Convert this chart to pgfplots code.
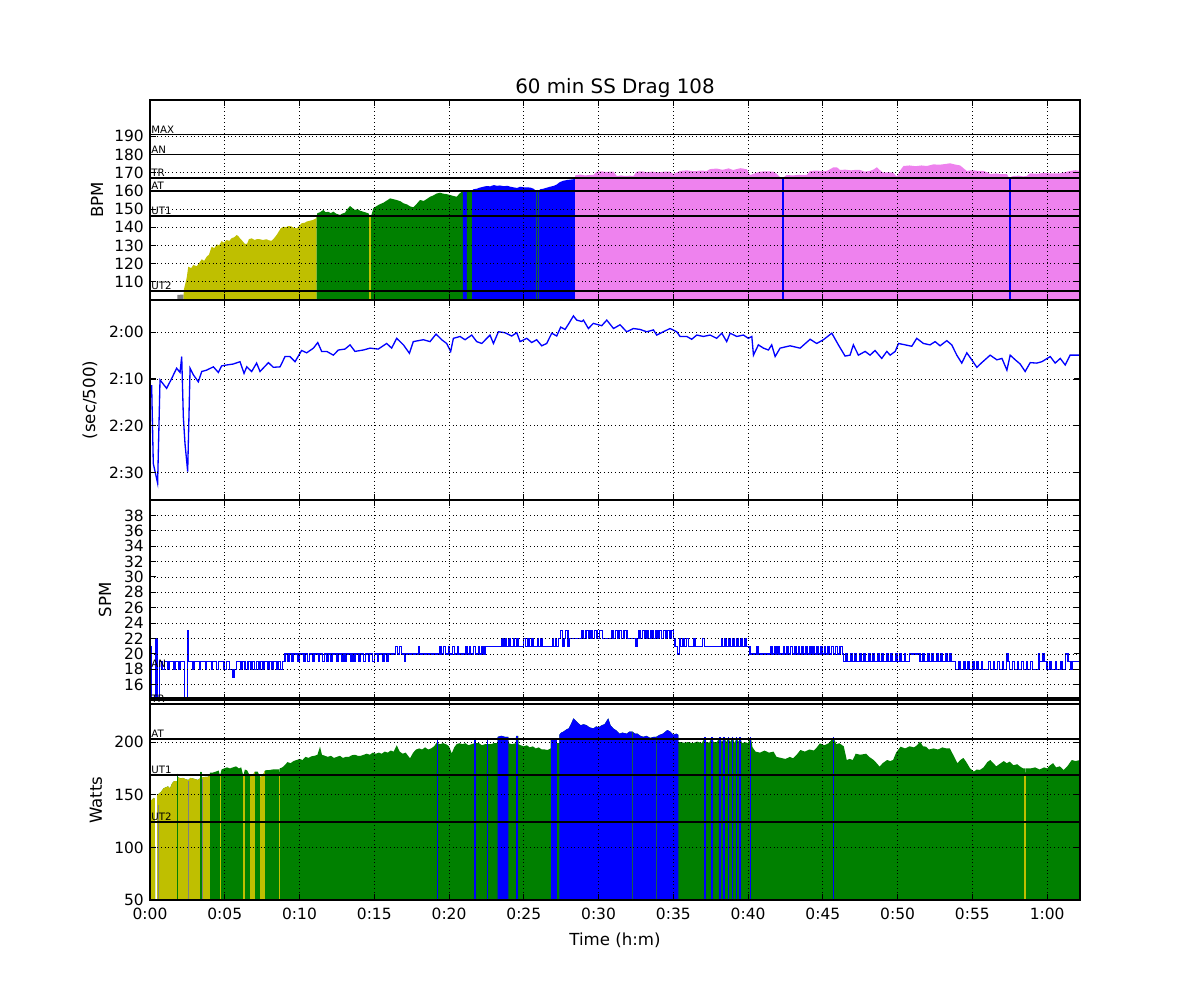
\documentclass[border=0pt]{standalone}
\usepackage{pgfplots}
\usepackage{pgfplotstable}
\pgfplotsset{compat=1.18}
\usepackage{fontspec}
\setmainfont{DejaVu Sans}
\definecolor{zy}{HTML}{BFBF00}
\definecolor{zg}{HTML}{008000}
\definecolor{zb}{HTML}{0000FF}
\definecolor{zv}{HTML}{EE82EE}
\definecolor{zgr}{HTML}{808080}
\definecolor{zdg}{HTML}{1A5A4A}

\pgfplotstableread{
t v
1.83 102.8
2.25 103.0
2.27 105.9
2.45 112
2.56 118.3
2.75 117.5
2.90 119.3
3.12 118.5
3.30 120.5
3.46 122.4
3.62 121.5
3.79 123.8
3.95 125
4.12 129.3
4.30 128.5
4.46 130.6
4.62 130
4.79 132.4
4.95 131.5
5.13 133.0
5.30 132.5
5.46 134
5.63 134.5
5.80 135.75
5.92 135
6.02 133.9
6.18 132.5
6.35 130.8
6.50 131
6.62 133.5
6.80 133.9
7.00 133.0
7.15 133.5
7.36 133.4
7.55 133
7.80 133.4
7.95 132.8
8.14 132.6
8.30 134
8.47 135.75
8.60 137.5
8.75 139.5
8.92 140.3
9.10 140
9.25 140.7
9.45 140.5
9.60 139.8
9.81 139.4
9.95 140.5
10.14 142.2
10.35 142.5
10.50 143.2
10.70 143.6
10.90 144
11.10 144.9
11.15 146
11.19 147.7
11.35 148.2
11.59 149.5
11.75 148.3
11.93 148.5
12.10 147.8
12.26 148.6
12.45 147.5
12.71 146.75
12.85 147.5
13.04 148
13.20 150
13.38 151.7
13.55 150.5
13.71 149.5
13.88 150
14.05 149.1
14.25 148.6
14.49 148
14.62 147.6
14.72 145.5
14.82 147
14.94 150.5
15.16 151.7
15.40 152.8
15.61 153.5
15.80 154.5
16.06 155.9
16.25 155.5
16.50 155
16.75 154.3
16.95 153.2
17.20 152.5
17.40 151.5
17.61 151
17.85 153
18.06 155
18.30 154.5
18.51 155.5
18.73 156.8
18.95 157.5
19.15 158.5
19.40 159
19.60 158.5
19.85 158.2
20.07 157.75
20.30 157.2
20.51 156.8
20.70 158.5
20.92 160.1
21.05 160.4
21.20 160.2
21.35 159.7
21.55 160.3
21.63 160.9
21.85 161.2
22.05 161.8
22.30 162.3
22.52 162.7
22.75 162.5
23.00 163.2
23.20 162.8
23.41 163.0
23.65 162.6
23.90 162.8
24.10 162.3
24.30 162.0
24.55 161.6
24.75 162.3
25.00 162.0
25.20 162.0
25.45 161.8
25.65 161.2
25.86 159.8
25.92 160.6
25.98 159.8
26.09 160.9
26.30 161.2
26.55 161.8
26.75 162.3
26.98 162.7
27.20 163.5
27.40 164.8
27.65 165.6
27.90 166.0
28.10 166.2
28.32 166.4
28.43 167.0
28.44 168.5
28.54 168.75
28.80 169
29.10 168.5
29.40 168.8
29.65 168.75
29.88 170.6
30.20 170.8
30.50 170.4
30.80 170.6
31.00 170.6
31.22 168.2
31.50 168.5
31.80 168.2
32.10 168.4
32.33 168.2
32.55 170.6
32.90 170.8
33.20 170.3
33.60 170.6
34.00 170.2
34.40 170.6
34.78 170.6
35.00 169.3
35.25 170.2
35.45 171
35.90 171.3
36.40 170.8
36.80 171.2
37.24 171
37.46 172
37.90 172.3
38.30 171.6
38.70 172.4
39.00 171.5
39.24 172
39.50 172.5
39.91 171.9
40.13 168.75
40.40 169.5
40.80 170.6
41.20 170.8
41.69 170.6
41.90 169.5
42.14 167.5
42.32 166.5
42.45 168
42.58 168.75
43.00 168.5
43.40 168.9
43.92 168.75
44.15 171
44.60 171.2
45.00 170.8
45.27 171
45.50 172
45.71 173
45.94 173
46.15 171.5
46.50 171.7
46.90 171.3
47.20 171.6
47.49 171.5
47.80 170.6
48.16 171
48.40 171.8
48.61 173
48.80 171.5
49.05 170
49.40 170.3
49.72 170
49.94 167.8
50.15 171
50.39 173.7
50.80 174
51.20 173.6
51.60 174
51.96 173.7
52.20 174.2
52.40 174.6
52.80 174.4
53.20 174.8
53.51 175.2
53.80 174.6
54.18 174
54.40 172.5
54.63 171
55.00 171.4
55.40 171
55.74 171
56.00 170.2
56.19 169.3
56.60 169.6
57.00 169.2
57.31 169.3
57.50 166.5
57.60 167.8
57.74 168.2
58.10 168.4
58.40 168
58.63 168.2
58.86 169.7
59.30 169.4
59.80 169.9
60.30 169.6
60.87 169.7
61.20 170.3
61.54 171
61.90 171.4
62.20 171
}\hrdata

\pgfplotstableread{
t v
0.11 131.3
0.22 148.1
0.51 152.3
0.67 130.2
1.11 132.0
1.45 129.9
1.78 127.7
2.01 128.6
2.12 125.2
2.23 138.1
2.34 143.8
2.52 149.8
2.68 127.7
2.90 129.1
3.23 130.6
3.46 128.4
3.79 128.1
4.24 127.4
4.57 128.6
4.79 127.2
5.13 127.0
5.57 126.8
6.02 126.3
6.29 128.8
6.47 127.4
6.80 128.4
7.13 126.6
7.36 128.4
7.92 126.5
8.25 127.5
8.70 127.4
9.03 125.2
9.36 125.2
9.70 126.3
10.14 123.9
10.48 124.4
10.93 123.4
11.22 122.2
11.48 124.1
11.82 124.1
12.26 124.9
12.60 123.8
13.04 123.6
13.38 122.7
13.71 124.1
14.27 123.8
14.72 123.4
15.27 123.6
15.83 122.4
16.16 123.4
16.50 121.3
16.95 122.7
17.35 124.5
17.61 122.0
18.28 121.6
18.73 122.0
19.13 120.4
19.51 121.6
19.84 122.4
20.11 124.1
20.29 121.3
20.74 120.9
21.07 121.6
21.52 120.6
21.85 122.0
22.19 122.4
22.74 120.6
22.97 122.4
23.30 119.9
23.75 120.1
24.19 120.8
24.53 120.1
24.75 122.0
25.20 121.3
25.53 122.2
25.86 121.6
26.20 122.9
26.53 122.4
26.87 120.2
27.20 120.8
27.47 118.9
27.76 119.4
27.98 118.3
28.32 116.5
28.54 117.4
28.88 117.7
28.99 117.4
29.32 119.2
29.65 118.1
30.21 118.6
30.55 117.4
31.00 119.2
31.44 118.4
31.88 119.9
32.33 119.2
32.78 119.4
33.22 119.9
33.67 119.5
33.89 120.6
34.33 119.9
34.78 119.2
35.23 119.9
35.45 120.9
35.90 120.9
36.23 121.5
36.57 120.6
37.01 120.9
37.46 120.6
37.90 121.3
38.24 120.2
38.57 122.0
38.80 120.2
39.24 120.9
39.69 120.6
40.02 121.3
40.25 120.9
40.36 124.9
40.69 122.7
41.03 123.4
41.36 123.8
41.58 122.7
41.81 125.2
42.14 123.4
42.81 122.9
43.48 123.4
44.15 121.5
44.59 122.4
45.04 121.6
45.60 120.2
46.04 122.7
46.49 125.1
46.82 124.9
47.04 122.7
47.38 124.9
47.83 124.1
48.16 124.9
48.49 123.9
48.94 125.6
49.28 124.1
49.50 124.9
49.84 124.1
50.06 122.4
50.51 122.7
50.95 123.0
51.28 121.3
51.73 122.4
52.17 122.7
52.51 122.0
52.84 122.9
53.29 121.8
53.62 122.7
53.96 124.9
54.29 126.6
54.63 124.4
54.96 125.9
55.30 127.5
55.63 126.5
56.19 124.9
56.64 125.9
56.98 125.6
57.31 128.1
57.53 124.9
57.87 125.9
58.20 126.8
58.53 128.4
58.87 126.5
59.31 126.6
59.65 126.3
60.21 125.2
60.54 126.6
60.88 125.6
61.21 127.0
61.54 124.9
62.15 124.9
}\pacedata

\pgfplotstableread{
t v
0.00 21
0.12 13
0.40 22
0.50 13
0.62 19
0.80 18
0.95 19
1.20 18
1.32 19
1.60 18
1.70 19
1.95 18
2.05 19
2.33 13
2.50 23
2.58 19
2.85 18
2.95 19
3.30 18
3.40 19
3.70 18
3.80 19
4.10 18
4.20 19
4.45 18
4.60 19
4.95 18
5.10 19
5.30 18
5.55 17
5.62 18
5.80 19
6.05 18
6.15 19
6.35 18
6.55 19
6.75 18
6.85 19
7.00 18
7.10 19
7.25 18
7.35 19
7.55 18
7.65 19
7.85 18
7.95 19
8.15 18
8.25 19
8.45 18
8.55 19
8.75 18
8.85 19
9.03 20
9.20 19
9.30 20
9.50 19
9.60 20
9.90 19
10.00 20
10.30 19
10.40 20
10.55 19
10.65 20
10.90 19
11.00 20
11.25 19
11.35 20
11.55 19
11.65 20
11.80 19
11.90 20
12.10 19
12.20 20
12.50 19
12.60 20
12.80 19
12.90 20
13.05 19
13.15 20
13.40 19
13.50 20
13.65 19
13.75 20
13.95 19
14.05 20
14.30 19
14.40 20
14.60 19
14.70 20
14.90 19
15.00 20
15.20 19
15.30 20
15.55 19
15.65 20
15.85 19
15.95 20
16.40 21
16.55 20
16.70 21
16.80 20
17.00 19
17.10 20
17.95 21
18.00 20
19.40 21
19.50 20
19.65 21
19.75 20
19.95 21
20.05 20
20.25 21
20.35 20
20.55 21
20.65 20
21.10 21
21.20 20
21.35 21
21.45 20
21.65 21
21.75 20
21.95 21
22.05 20
22.20 21
22.30 20
22.41 21
23.50 22
23.60 21
23.75 22
23.85 21
24.00 22
24.10 21
24.30 22
24.40 21
24.55 22
24.65 21
25.00 22
25.10 21
25.25 22
25.35 21
25.55 22
25.65 21
25.90 22
26.00 21
26.15 22
26.25 21
26.90 22
27.00 21
27.10 22
27.20 21
27.31 22
27.45 23
27.60 21
27.68 22
27.80 23
27.95 21
28.02 22
28.90 23
29.00 22
29.15 23
29.35 22
29.50 23
29.60 22
29.75 23
29.90 22
30.05 23
30.25 22
30.90 23
31.00 22
31.15 23
31.30 22
31.40 23
31.55 22
31.70 23
31.90 22
32.50 21
32.58 22
32.70 23
32.80 22
32.95 23
33.10 22
33.25 23
33.35 22
33.50 23
33.65 22
33.80 23
33.90 22
34.05 23
34.20 22
34.35 23
34.50 22
34.60 23
34.75 22
34.85 23
35.00 22
35.12 21
35.30 20
35.40 22
35.50 21
35.65 22
35.75 21
35.90 22
36.00 21
36.35 22
36.45 21
36.95 22
37.10 21
38.20 22
38.30 21
38.45 22
38.55 21
38.70 22
38.80 21
38.95 22
39.05 21
39.25 22
39.35 21
39.50 22
39.60 21
39.80 22
39.90 21
40.13 20
40.60 21
40.70 20
41.50 21
41.60 20
41.80 21
41.90 20
42.00 21
42.10 20
42.35 21
42.45 20
42.60 21
42.70 20
42.85 21
42.95 20
43.10 21
43.20 20
43.35 21
43.45 20
43.60 21
43.70 20
43.85 21
43.95 20
44.10 21
44.20 20
44.35 21
44.45 20
44.60 21
44.70 20
44.85 21
44.95 20
45.10 21
45.20 20
45.35 21
45.45 20
45.60 21
45.70 20
45.85 21
46.00 20
46.15 21
46.30 20
46.38 19
46.55 20
46.65 19
46.85 20
46.95 19
47.15 20
47.25 19
47.45 20
47.55 19
47.75 20
47.85 19
48.05 20
48.15 19
48.35 20
48.45 19
48.65 20
48.75 19
48.95 20
49.05 19
49.25 20
49.35 19
49.55 20
49.65 19
49.85 20
49.95 19
50.15 20
50.25 19
50.45 20
50.55 19
50.80 20
51.50 19
51.70 20
51.80 19
52.00 20
52.10 19
52.30 20
52.40 19
52.60 20
52.70 19
52.90 20
53.00 19
53.20 20
53.30 19
53.50 20
53.60 19
53.85 18
54.10 19
54.20 18
54.40 19
54.50 18
54.70 19
54.80 18
55.00 19
55.10 18
55.30 19
55.40 18
55.60 19
55.70 18
56.10 19
56.20 18
56.40 19
56.50 18
56.70 19
56.80 18
57.00 19
57.10 18
57.30 20
57.38 19
57.50 18
57.70 19
57.80 18
58.00 19
58.10 18
58.30 19
58.40 18
58.60 19
58.70 18
58.90 19
59.00 18
59.45 20
59.50 19
59.70 20
59.80 19
60.00 18
60.20 19
60.30 18
60.55 19
60.65 18
60.90 19
61.00 18
61.25 20
61.40 19
61.60 18
61.70 19
62.20 19
}\spmdata

\pgfplotstableread{
t v
0.00 145
0.11 145
0.25 147
0.33 146
0.34 40
0.47 40
0.48 150
0.60 151
0.75 153
0.90 156
1.05 157
1.20 158
1.34 156
1.45 160
1.56 162.4
1.65 163
1.81 163
1.83 170
1.85 166
1.90 166.5
2.05 165.5
2.20 166
2.35 165
2.56 164
2.70 166
2.85 165.5
3.00 165
3.20 164
3.39 166
3.41 172
3.43 166
3.55 166.5
3.70 167
3.85 167
4.00 168
4.01 171
4.20 171
4.40 172
4.60 173
4.68 168
4.79 174
4.95 175
5.15 176
5.35 175
5.55 176
5.75 177
5.95 175
6.10 176
6.24 168
6.35 174
6.50 173
6.69 167.5
6.85 167.8
7.02 172
7.20 172
7.36 167
7.52 167.5
7.69 173
7.85 173.5
8.00 173.5
8.20 174
8.40 174
8.63 174
8.65 168
8.67 175
8.85 176
9.00 178
9.20 181
9.40 180
9.60 182
9.80 183
10.00 184
10.20 183
10.40 186
10.60 185
10.80 186.5
11.00 187
11.20 188
11.37 195.7
11.50 188
11.70 187
11.90 186
12.10 187
12.30 185
12.50 186
12.70 187
12.90 185
13.10 186
13.30 186
13.50 187.5
13.70 188
13.90 187
14.10 187
14.30 188
14.50 189
14.70 188
14.90 190
15.10 189
15.30 190
15.50 189
15.70 191
15.90 190
16.10 192
16.30 191
16.50 197
16.70 191
16.90 189
17.10 190
17.39 184.6
17.60 190
17.80 193
18.00 194
18.20 193
18.40 195
18.60 193
18.80 194
19.00 196
19.20 200
19.22 204
19.24 199
19.40 198
19.60 199
19.80 198
20.00 196
20.18 189.3
20.35 195
20.50 198
20.70 199
20.90 198
21.10 199
21.30 197
21.50 198
21.72 199
21.74 204
21.76 199
22.00 199
22.20 197
22.40 198
22.54 198
22.56 204
22.58 198
22.80 198
23.00 199
23.24 199
23.25 205
23.50 206
23.75 205
23.97 205
23.98 199
24.20 198
24.47 199
24.48 206
24.64 206
24.65 198
24.80 197
25.00 196
25.20 197
25.40 195
25.60 196
25.80 194
26.00 195
26.20 193
26.40 193
26.60 192.5
26.79 194
26.80 203
27.20 203
27.21 199
27.37 199
27.38 207
27.50 209
27.65 210
27.85 212
28.00 213
28.15 217
28.32 222.6
28.50 220
28.65 218
28.80 216
29.00 217
29.20 216
29.40 214
29.65 213
29.85 215
30.00 214
30.21 216
30.40 217
30.65 222.6
30.80 216
30.99 213
31.20 211
31.40 208
31.60 209
31.90 208
32.05 210
32.20 210
32.26 210
32.45 208
32.60 208
32.80 206
33.00 205
33.20 206
33.45 204
33.70 205
33.85 205
34.10 207
34.30 208
34.60 211.5
34.80 210
35.00 207
35.20 208
35.33 207
35.34 200
35.50 200
35.70 199.5
36.00 200
36.30 199
36.60 200.5
36.90 199
37.13 204.5
37.20 200
37.40 199.5
37.58 204.5
37.70 200
37.90 200
38.13 204.5
38.25 200
38.40 204.5
38.55 200
38.68 204.5
38.80 200
38.97 204.5
39.10 199
39.24 204.5
39.35 200
39.46 204.5
39.60 199
39.80 200
40.00 199
40.18 204.5
40.30 195
40.50 191
40.80 190
41.10 192
41.40 190
41.70 191
41.90 186
42.20 185
42.50 184
42.80 186
43.00 184.6
43.25 188
43.50 192.5
43.80 191
44.10 193
44.40 192
44.60 195
44.80 198.8
45.10 197
45.40 199
45.71 204.5
45.90 198
46.10 199
46.40 196
46.60 183
46.80 184
47.00 183
47.20 189
47.50 188
47.90 189
48.10 186
48.40 183
48.60 180
48.80 176.7
49.00 180
49.30 183
49.50 182
49.70 183
49.90 190
50.20 195.7
50.50 194
50.80 196
51.10 195
51.30 197
51.50 200.4
51.70 196
51.90 195.7
52.10 193
52.40 194
52.70 193
53.00 195
53.25 194
53.50 194
53.75 187
54.00 180
54.20 183
54.40 185
54.60 181
54.85 175
55.10 172
55.30 174
55.50 173.5
55.75 176
56.00 181
56.20 183
56.40 180
56.60 177
56.80 179
57.10 182
57.30 180
57.50 181.4
57.75 178
58.00 179
58.20 176.7
58.40 175
58.51 175
58.53 168
58.55 175
58.90 175
59.20 176
59.50 174
59.80 176
60.00 175
60.20 178
60.40 180
60.60 176
60.85 177
61.10 173.5
61.35 177
61.65 183
61.90 182
62.20 183
}\wattdata

\pgfplotsset{
  panel/.style={
    scale only axis, width=18.6cm, height=4cm,
    xmin=0, xmax=62.2,
    xtick={0,5,...,60},
    axis on top,
    clip mode=individual,
    tick align=inside, tick pos=both,
    major tick length=0.12cm,
    grid=major,
    major grid style={black, line width=0.4pt, dash pattern=on 0.5pt off 1.6pt},
    axis line style={line width=0.7pt},
    every tick/.style={black, line width=0.6pt},
    ticklabel style={font=\fontsize{8.8}{10}\selectfont},
    xticklabel style={yshift=-0.04cm},
    /pgf/number format/assume math mode=true,
    scaled y ticks=false,
    label style={font=\fontsize{9.45}{11}\selectfont},
    every axis title shift=0pt,
  },
  zl/.style={black, line width=1pt},
}
\tikzset{zt/.style={anchor=south west, inner sep=0.6pt, font=\fontsize{5.8}{6}\selectfont}}

\begin{document}
\begin{tikzpicture}
\path[use as bounding box] (0,0) rectangle (24cm,-20cm);

% ---------- HR ----------
\begin{axis}[panel, at={(3cm,-2cm)}, anchor=north west,
  ymin=100, ymax=210, ytick={110,120,...,190},
  xticklabels={},
  ylabel={BPM},
  ylabel style={at={(axis description cs:-0.0570,0.5)}, anchor=center},
  title={60 min SS Drag 108},
  title style={at={(axis description cs:0.5,1.035)}, anchor=base, font=\fontsize{11.3}{13}\selectfont},
]
\addplot[fill=zgr, draw=none, restrict x to domain=1.82:2.251] table {\hrdata} \closedcycle;
\addplot[fill=zy, draw=none, restrict x to domain=2.249:11.151] table {\hrdata} \closedcycle;
\addplot[fill=zg, draw=none, restrict x to domain=11.149:20.921] table {\hrdata} \closedcycle;
\addplot[fill=zb, draw=none, restrict x to domain=20.919:21.201] table {\hrdata} \closedcycle;
\addplot[fill=zg, draw=none, restrict x to domain=21.199:21.551] table {\hrdata} \closedcycle;
\addplot[fill=zb, draw=none, restrict x to domain=21.549:28.431] table {\hrdata} \closedcycle;
\addplot[fill=zv, draw=none, restrict x to domain=28.429:62.3] table {\hrdata} \closedcycle;
\addplot[ycomb, draw=zy, line width=0.7pt] coordinates {(14.72,145.5)};
\addplot[ycomb, draw=zdg, line width=0.6pt] coordinates {(25.86,159.8) (25.98,159.8)};
\addplot[ycomb, draw=zb, line width=1pt] coordinates {(42.32,166.5) (57.50,166.5)};
\addplot[zl] coordinates {(0,105) (62.2,105)};
\addplot[zl] coordinates {(0,146) (62.2,146)};
\addplot[zl] coordinates {(0,160) (62.2,160)};
\addplot[zl] coordinates {(0,167) (62.2,167)};
\addplot[zl] coordinates {(0,180) (62.2,180)};
\addplot[zl] coordinates {(0,191) (62.2,191)};
\node[zt] at (axis cs:0,105) {UT2};
\node[zt] at (axis cs:0,146) {UT1};
\node[zt] at (axis cs:0,160) {AT};
\node[zt] at (axis cs:0,167) {TR};
\node[zt] at (axis cs:0,180) {AN};
\node[zt] at (axis cs:0,191) {MAX};
\end{axis}

% ---------- Pace ----------
\begin{axis}[panel, at={(3cm,-6cm)}, anchor=north west,
  y dir=reverse, ymin=113.1, ymax=155.9,
  ytick={120,130,140,150}, yticklabels={2:00,2:10,2:20,2:30},
  xticklabels={},
  ylabel={(sec/500)},
  ylabel style={at={(axis description cs:-0.0645,0.5)}, anchor=center},
]
\addplot[zb, line width=0.75pt] table {\pacedata};
\end{axis}

% ---------- SPM ----------
\begin{axis}[panel, at={(3cm,-10cm)}, anchor=north west,
  ymin=14, ymax=40, ytick={16,18,...,38},
  xticklabels={},
  ylabel={SPM},
  ylabel style={at={(axis description cs:-0.0484,0.5)}, anchor=center},
]
\addplot[const plot, zb, line width=0.75pt] table {\spmdata};
\addplot[zl] coordinates {(0,14.3) (62.2,14.3)};
\end{axis}

% ---------- Watts ----------
\begin{axis}[panel, at={(3cm,-14cm)}, anchor=north west,
  ymin=50, ymax=240, ytick={50,100,150,200},
  xticklabels={0:00,0:05,0:10,0:15,0:20,0:25,0:30,0:35,0:40,0:45,0:50,0:55,1:00},
  ylabel={Watts},
  ylabel style={at={(axis description cs:-0.0581,0.5)}, anchor=center},
  xlabel={Time (h:m)},
  xlabel style={at={(axis description cs:0.5,-0.225)}, anchor=base},
]
\addplot[fill=zg, draw=none] table {\wattdata} \closedcycle;
\addplot[fill=zy, draw=none, restrict x to domain=-0.1:4.001] table {\wattdata} \closedcycle;
\addplot[fill=zy, draw=none, restrict x to domain=6.689:7.021] table {\wattdata} \closedcycle;
\addplot[fill=zy, draw=none, restrict x to domain=7.359:7.691] table {\wattdata} \closedcycle;
\addplot[fill=zb, draw=none, restrict x to domain=23.249:23.971] table {\wattdata} \closedcycle;
\addplot[fill=zb, draw=none, restrict x to domain=24.479:24.641] table {\wattdata} \closedcycle;
\addplot[fill=zb, draw=none, restrict x to domain=26.799:27.201] table {\wattdata} \closedcycle;
\addplot[fill=zb, draw=none, restrict x to domain=27.379:35.331] table {\wattdata} \closedcycle;
\addplot[ycomb, draw=zy, line width=0.9pt] coordinates {(4.72,168) (6.29,168) (8.65,168) (58.53,168)};
\addplot[ycomb, draw=zg, line width=0.9pt] coordinates {(1.83,170) (3.41,172)};
\addplot[ycomb, draw=zgr, line width=0.5pt] coordinates {(0.56,140) (2.56,163) (3.48,165)};
\addplot[ycomb, draw=zdg, line width=0.6pt] coordinates {(32.26,210) (33.85,205)};
\addplot[ycomb, draw=zb, line width=0.8pt] coordinates {(19.22,204) (21.74,204) (22.56,204) (37.13,204.5) (37.58,204.5) (38.13,204.5) (38.40,204.5) (38.68,204.5) (38.97,204.5) (39.24,204.5) (39.46,204.5) (40.18,204.5) (45.71,204.5)};
\addplot[zl] coordinates {(0,124) (62.2,124)};
\addplot[zl] coordinates {(0,169) (62.2,169)};
\addplot[zl] coordinates {(0,203) (62.2,203)};
\addplot[zl] coordinates {(0,236.2) (62.2,236.2)};
\node[zt] at (axis cs:0,124) {UT2};
\node[zt] at (axis cs:0,169) {UT1};
\node[zt] at (axis cs:0,203) {AT};
\node[zt] at (axis cs:0,236.2) {TR};
\node[zt] at (axis cs:0,270) {AN};
\end{axis}
\end{tikzpicture}
\end{document}
